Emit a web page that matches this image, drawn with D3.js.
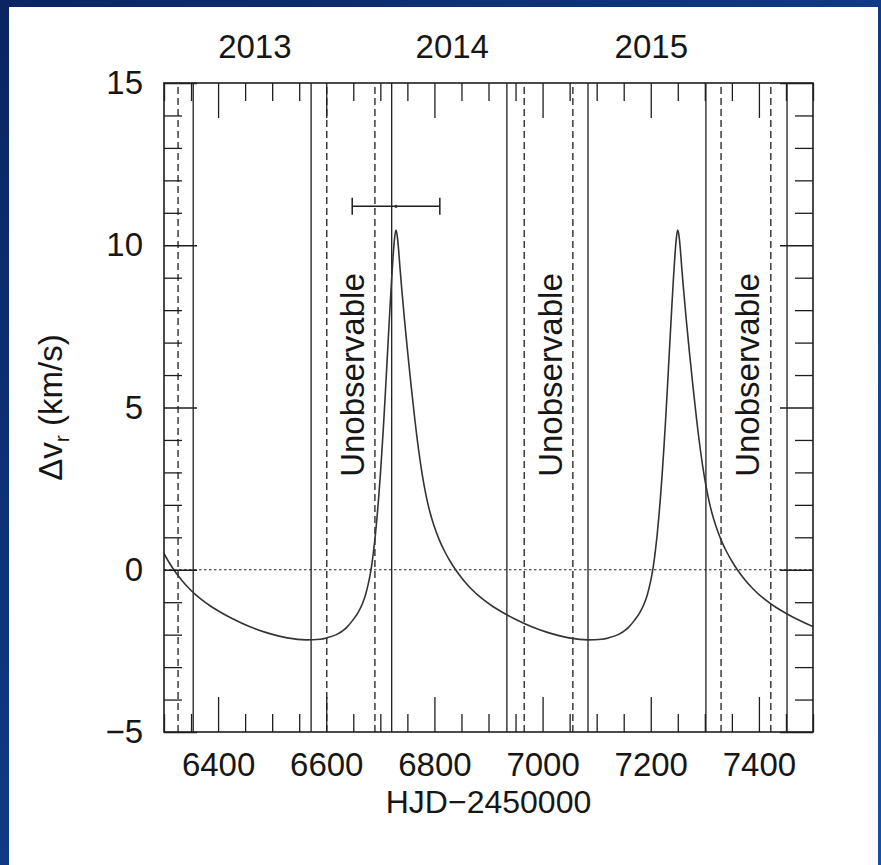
<!DOCTYPE html>
<html>
<head>
<meta charset="utf-8">
<script src="https://cdn.jsdelivr.net/npm/d3@7"></script>
<style>
  html, body { margin: 0; padding: 0; background: #0d3a86; }
  svg { display: block; }
  text { font-family: "Liberation Sans", Arial, Helvetica, sans-serif; fill: #161616; }
</style>
</head>
<body>
<script>
// Radial-velocity difference model curve (HJD-2450000, km/s)
const hjd = [6297.8, 6307.8, 6317.8, 6332.8, 6347.8, 6367.8, 6387.8, 6407.8, 6427.8, 6457.8, 6487.8, 6527.8,
  6562.8, 6588.8, 6600.8, 6618.8, 6633.8, 6638.8, 6648.8, 6658.8, 6666.8, 6672.8, 6677.8, 6681.8,
  6684.8, 6687.8, 6690.8, 6693.8, 6696.8, 6699.8, 6702.8, 6705.8, 6708.8, 6711.8, 6714.8, 6717.8,
  6720.8, 6723.8, 6726.4, 6728.8, 6731.2, 6733.8, 6736.3, 6739.3, 6744.8, 6750.8, 6756.8, 6763.8,
  6770.8, 6777.8, 6784.8, 6791.8, 6798.8, 6808.8, 6818.8, 6828.8, 6838.8, 6853.8, 6868.8, 6888.8,
  6908.8, 6928.8, 6948.8, 6978.8, 7008.8, 7048.8, 7083.8, 7109.8, 7121.8, 7139.8, 7154.8, 7159.8,
  7169.8, 7179.8, 7187.8, 7193.8, 7198.8, 7202.8, 7205.8, 7208.8, 7211.8, 7214.8, 7217.8, 7220.8,
  7223.8, 7226.8, 7229.8, 7232.8, 7235.8, 7238.8, 7241.8, 7244.8, 7247.4, 7249.8, 7252.2, 7254.8,
  7257.3, 7260.3, 7265.8, 7271.8, 7277.8, 7284.8, 7291.8, 7298.8, 7305.8, 7312.8, 7319.8, 7329.8,
  7339.8, 7349.8, 7359.8, 7374.8, 7389.8, 7409.8, 7429.8, 7449.8, 7469.8, 7499.8, 7529.8];
const dv = [0.57, 0.27, 0.01, -0.32, -0.60, -0.90, -1.14, -1.34, -1.52, -1.75, -1.93, -2.10,
  -2.16, -2.14, -2.10, -2.00, -1.84, -1.76, -1.56, -1.32, -1.05, -0.76, -0.43, -0.09,
  0.23, 0.62, 1.07, 1.60, 2.20, 2.87, 3.62, 4.43, 5.30, 6.22, 7.15, 8.06,
  8.93, 9.71, 10.23, 10.47, 10.30, 9.86, 9.31, 8.71, 7.68, 6.66, 5.69, 4.63,
  3.69, 2.90, 2.27, 1.77, 1.38, 0.93, 0.57, 0.27, 0.01, -0.32, -0.60, -0.90,
  -1.14, -1.34, -1.52, -1.75, -1.93, -2.10, -2.16, -2.14, -2.10, -2.00, -1.84, -1.76,
  -1.56, -1.32, -1.05, -0.76, -0.43, -0.09, 0.23, 0.62, 1.07, 1.60, 2.20, 2.87,
  3.62, 4.43, 5.30, 6.22, 7.15, 8.06, 8.93, 9.71, 10.23, 10.47, 10.30, 9.86,
  9.31, 8.71, 7.68, 6.66, 5.69, 4.63, 3.69, 2.90, 2.27, 1.77, 1.38, 0.93,
  0.57, 0.27, 0.01, -0.32, -0.60, -0.90, -1.14, -1.34, -1.52, -1.75, -1.93];

// Epoch markers (solid) and limits of the unobservable seasons (dashed)
const solidEpochs = [6354, 6572, 6721, 6934, 7084, 7302, 7452];
const dashedEpochs = [6326, 6601, 6690, 6966, 7056, 7330, 7422];
const unobsStart = [6601, 6966, 7330];
const unobsEnd = [6690, 7056, 7422];
const unobsLabel = "Unobservable";
const unobsLevel = 6;

// Periastron time estimate with its uncertainty
const periTime = 6729;
const periErr = 81;
const periLevel = 11.2;

// Calendar years along the top
const years = ["2013", "2014", "2015"];
const yearHJD = [6468, 6833, 7201];

// Axis ticks
const xMajor = [6400, 6600, 6800, 7000, 7200, 7400];
const xMinor = d3.range(6300, 7501, 50).filter(v => !xMajor.includes(v));
const yMajor = [-5, 0, 5, 10, 15];
const yMinor = d3.range(-5, 15.01, 1).filter(v => !yMajor.includes(v));
const xTitle = "HJD\u22122450000";

const W = 881, H = 865;
const L = 164, R = 813, T = 83, B = 732;

const svg = d3.select("body").append("svg").attr("width", W).attr("height", H);

const defs = svg.append("defs");
const grad = defs.append("linearGradient").attr("id", "bg")
  .attr("x1", 0).attr("y1", 0).attr("x2", 1).attr("y2", 1);
grad.append("stop").attr("offset", "0%").attr("stop-color", "#0a2560");
grad.append("stop").attr("offset", "100%").attr("stop-color", "#1450a8");
defs.append("clipPath").attr("id", "plotclip")
  .append("rect").attr("x", L).attr("y", T).attr("width", R - L).attr("height", B - T);

svg.append("rect").attr("width", W).attr("height", H).attr("fill", "url(#bg)");
svg.append("rect").attr("x", 9).attr("y", 7).attr("width", 869).attr("height", H - 7).attr("fill", "#fff");

const x = d3.scaleLinear().domain([6300, 7500]).range([L, R]);
const y = d3.scaleLinear().domain([-5, 15]).range([B, T]);

const plot = svg.append("g").attr("clip-path", "url(#plotclip)");

// zero level
plot.append("line")
  .attr("x1", x(6300)).attr("x2", x(7500)).attr("y1", y(0)).attr("y2", y(0))
  .attr("stroke", "#222").attr("stroke-width", 1.2).attr("stroke-dasharray", "2.5,2.5");

// vertical epoch lines
plot.selectAll("line.solid").data(solidEpochs).join("line").attr("class", "solid")
  .attr("x1", d => x(d)).attr("x2", d => x(d)).attr("y1", y(-5)).attr("y2", y(15))
  .attr("stroke", "#1e1e1e").attr("stroke-width", 1.3);
plot.selectAll("line.dashed").data(dashedEpochs).join("line").attr("class", "dashed")
  .attr("x1", d => x(d)).attr("x2", d => x(d)).attr("y1", y(-5)).attr("y2", y(15))
  .attr("stroke", "#1e1e1e").attr("stroke-width", 1.3).attr("stroke-dasharray", "7,4");

// model curve
const pts = hjd.map((t, i) => [t, dv[i]]);
plot.append("path").datum(pts)
  .attr("d", d3.line().x(d => x(d[0])).y(d => y(d[1])).curve(d3.curveMonotoneX))
  .attr("fill", "none").attr("stroke", "#333").attr("stroke-width", 1.6);

// periastron estimate with error bar
const eb = svg.append("g").attr("stroke", "#1e1e1e").attr("stroke-width", 1.5);
eb.append("line").attr("x1", x(periTime - periErr)).attr("x2", x(periTime + periErr))
  .attr("y1", y(periLevel)).attr("y2", y(periLevel));
[periTime - periErr, periTime + periErr].forEach(t => {
  eb.append("line").attr("x1", x(t)).attr("x2", x(t))
    .attr("y1", y(periLevel) - 8.5).attr("y2", y(periLevel) + 8.5);
});
svg.append("circle").attr("cx", x(periTime)).attr("cy", y(periLevel)).attr("r", 1.6).attr("fill", "#333");

// unobservable season labels
svg.selectAll("text.unobs").data(unobsStart).join("text").attr("class", "unobs")
  .attr("transform", (d, i) => `translate(${x((d + unobsEnd[i]) / 2) + 13},${y(unobsLevel)}) rotate(-90)`)
  .attr("text-anchor", "middle").style("font-size", "33px").text(unobsLabel);

// axes
function styleAxis(g) {
  g.select(".domain").remove();
  g.selectAll(".tick line").attr("stroke", "#1e1e1e").attr("stroke-width", 1.3);
  g.attr("font-family", null).attr("font-size", null);
  g.selectAll("text").style("font-size", "33px").attr("fill", "#161616");
}
const fmtY = d => d < 0 ? "\u2212" + Math.abs(d) : String(d);

svg.append("g").attr("transform", `translate(0,${B})`)
  .call(d3.axisBottom(x).tickValues(xMinor).tickSize(-18).tickFormat("")).call(styleAxis);
svg.append("g").attr("transform", `translate(0,${B})`)
  .call(d3.axisBottom(x).tickValues(xMajor).tickSize(-35).tickPadding(21).tickFormat(d3.format("d"))).call(styleAxis);
svg.append("g").attr("transform", `translate(0,${T})`)
  .call(d3.axisTop(x).tickValues(xMinor).tickSize(-18).tickFormat("")).call(styleAxis);
svg.append("g").attr("transform", `translate(0,${T})`)
  .call(d3.axisTop(x).tickValues(xMajor).tickSize(-35).tickFormat("")).call(styleAxis);

svg.append("g").attr("transform", `translate(${L},0)`)
  .call(d3.axisLeft(y).tickValues(yMinor).tickSize(-18).tickFormat("")).call(styleAxis);
svg.append("g").attr("transform", `translate(${L},0)`)
  .call(d3.axisLeft(y).tickValues(yMajor).tickSize(-33).tickPadding(21).tickFormat(fmtY)).call(styleAxis);
svg.append("g").attr("transform", `translate(${R},0)`)
  .call(d3.axisRight(y).tickValues(yMinor).tickSize(-18).tickFormat("")).call(styleAxis);
svg.append("g").attr("transform", `translate(${R},0)`)
  .call(d3.axisRight(y).tickValues(yMajor).tickSize(-33).tickFormat("")).call(styleAxis);

// frame
svg.append("rect").attr("x", L).attr("y", T).attr("width", R - L).attr("height", B - T)
  .attr("fill", "none").attr("stroke", "#1e1e1e").attr("stroke-width", 1.6);

// year labels
svg.selectAll("text.year").data(years).join("text").attr("class", "year")
  .attr("x", (d, i) => x(yearHJD[i])).attr("y", 58)
  .attr("text-anchor", "middle").style("font-size", "33px").text(d => d);

// axis titles
svg.append("text").attr("x", (L + R) / 2).attr("y", 813).attr("text-anchor", "middle")
  .style("font-size", "32px").text(xTitle);

const yt = svg.append("text")
  .attr("transform", `translate(62,${(T + B) / 2}) rotate(-90)`)
  .attr("text-anchor", "middle").style("font-size", "33px");
yt.append("tspan").text("\u0394v");
yt.append("tspan").attr("dy", 7).style("font-size", "21px").text("r");
yt.append("tspan").attr("dy", -7).text(" (km/s)");
</script>
</body>
</html>
